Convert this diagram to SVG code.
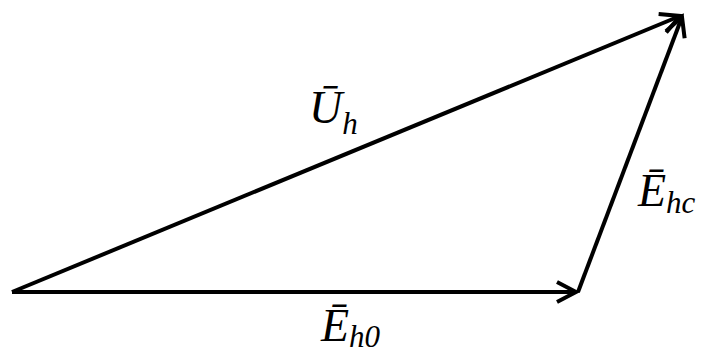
<svg xmlns="http://www.w3.org/2000/svg" width="706" height="356" viewBox="0 0 706 356">
<style>
.v{stroke:#000;stroke-width:4;fill:none;stroke-linecap:butt}
.lbl{font-family:"Liberation Serif","DejaVu Serif",serif;font-style:italic;font-size:46px;fill:#000}
.sub{font-size:31px}
</style>
<defs>
<marker id="ah" markerUnits="userSpaceOnUse" markerWidth="30" markerHeight="30" viewBox="-22 -15 30 30" refX="0" refY="0" orient="auto">
<path d="M-19,-10 L0,0 L-19,10" fill="none" stroke="#000" stroke-width="4" stroke-linejoin="miter"/>
</marker>
</defs>
<rect width="706" height="356" fill="#fff"/>
<g id="connectors">
<line class="v" x1="12" y1="292" x2="576" y2="292" marker-end="url(#ah)"/>
<line class="v" x1="578" y1="292" x2="682" y2="17" marker-end="url(#ah)"/>
<line class="v" x1="12" y1="292" x2="680" y2="16" marker-end="url(#ah)"/>
</g>
<g id="label-Uh"><text class="lbl" x="309" y="123">Ū<tspan class="sub" dy="11">h</tspan></text></g>
<g id="label-Ehc"><text class="lbl" x="638" y="206">Ē<tspan class="sub" dy="7">hc</tspan></text></g>
<g id="label-Eh0"><text class="lbl" x="321" y="341">Ē<tspan class="sub" dy="6">h0</tspan></text></g>
</svg>
